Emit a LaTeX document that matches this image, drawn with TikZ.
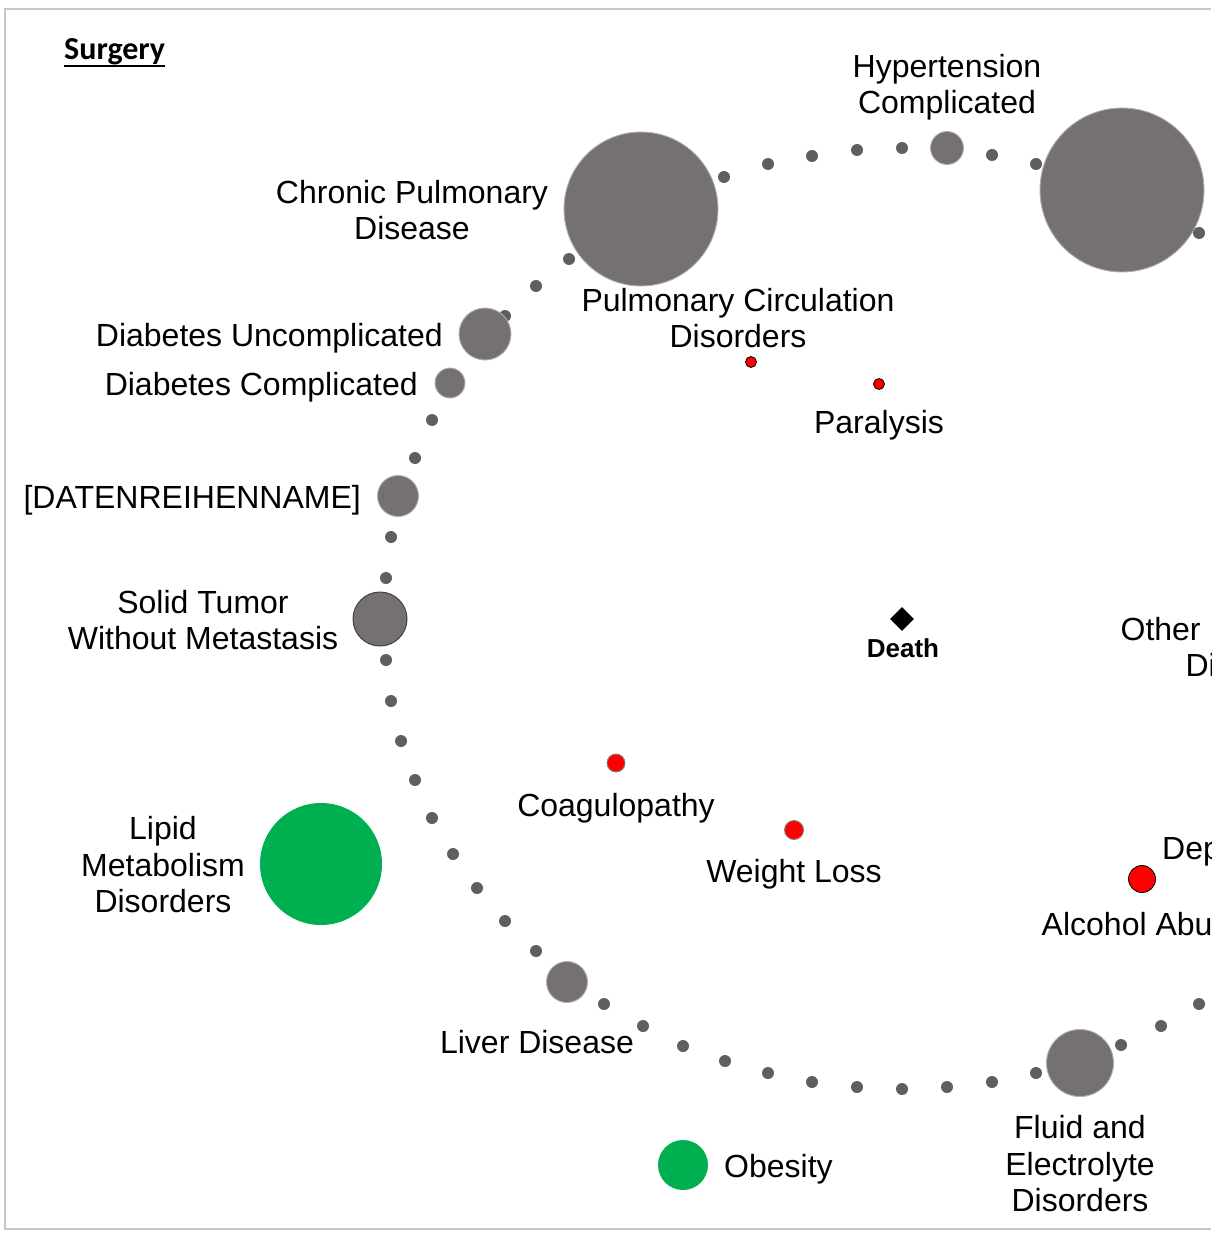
\documentclass[tikz,border=0pt]{standalone}
\usepackage{fontspec}
\setmainfont{Liberation Sans}
\newfontfamily\calibrifont{Carlito}
\usetikzlibrary{shapes.geometric}
\definecolor{bubgray}{HTML}{757171}
\definecolor{dotgray}{HTML}{5F5F5F}
\definecolor{edgegray}{HTML}{B0B0B0}
\definecolor{framecol}{HTML}{C0C8D2}
\definecolor{obgreen}{HTML}{00B050}
\tikzset{
  bub/.style={circle, inner sep=0pt, fill=bubgray, draw=edgegray, line width=0.9pt},
  ringdot/.style={circle, inner sep=0pt, minimum size=12pt, fill=dotgray},
  redblk/.style={circle, inner sep=0pt, fill=red, draw=black, line width=0.8pt},
  redgry/.style={circle, inner sep=0pt, fill=red, draw=gray, line width=0.9pt},
  grn/.style={circle, inner sep=0pt, fill=obgreen},
  lbl/.style={inner sep=0pt, font=\fontsize{32}{36.5}\selectfont, align=center},
}
\begin{document}
\begin{tikzpicture}[x=1pt,y=-1pt]
\useasboundingbox (0,0) rectangle (1217,1241);
\draw[framecol, line width=2pt] (1211,9.5) -- (5,9.5) -- (5,1228.5) -- (1211,1228.5);
\clip (0,0) rectangle (1211.5,1241);

% big bubbles
\node[bub, minimum size=154pt] (cpd) at (641,209) {};
\node[bub, minimum size=164pt] (htu) at (1122,190) {};

% ring dots
\foreach \px/\py [count=\i] in {724/177, 768/164, 812/156, 857/150, 902/148, 992/155, 1036/164, 1199/233,
  569/259, 536/286, 505/316, 432/420, 415/458, 391/537, 386/578, 386/660, 391/701, 401/741, 415/780,
  432/818, 453/854, 477/888, 505/921, 536/951, 604/1004, 643/1026, 683/1046, 725/1061, 768/1073,
  812/1082, 857/1087, 902/1089, 947/1087, 992/1082, 1036/1073, 1121/1045, 1161/1026, 1199/1004}
  \node[ringdot] (d\i) at (\px,\py) {};

% other gray bubbles
\node[bub, minimum size=33pt] (hc) at (947,148) {};
\node[bub, minimum size=52pt] (du) at (485,334) {};
\node[bub, minimum size=30pt] (dc) at (450,383) {};
\node[bub, minimum size=41pt] (dr) at (398,496) {};
\node[bub, minimum size=54pt, draw=black!75, line width=1pt] (st) at (380,619) {};
\node[bub, minimum size=41pt] (ld) at (567,982) {};
\node[bub, minimum size=67pt] (fe) at (1080,1063) {};

% green bubbles
\node[grn, minimum size=122pt] (lmd) at (321,864) {};
\node[grn, minimum size=50pt] (ob) at (683,1165) {};

% red dots
\node[redblk, minimum size=11pt] (pc) at (751,362) {};
\node[redblk, minimum size=11pt] (pa) at (879,384) {};
\node[redgry, minimum size=18pt] (co) at (616,763) {};
\node[redgry, minimum size=19pt] (wl) at (794,830) {};
\node[redblk, minimum size=27pt] (al) at (1142,879) {};

% death diamond
\node[diamond, fill=black, inner sep=0pt, minimum size=24pt] (de) at (902,619) {};

% labels
\node[anchor=base west, inner sep=0pt, font=\calibrifont\bfseries\fontsize{32}{36}\selectfont] (tsur) at (64,60) {Surgery};
\draw[line width=2.6pt] ([yshift=-6pt]tsur.base west) -- ([yshift=-6pt]tsur.base east);
\node[lbl] (thc) at (947,87) {Hypertension\\Complicated};
\node[lbl] (tcpd) at (412,210) {Chronic Pulmonary\\Disease};
\node[lbl] (tpc) at (738,318) {Pulmonary Circulation\\Disorders};
\node[lbl, anchor=base] (tpa) at (879,433) {Paralysis};
\node[lbl, anchor=base east] (tdu) at (443,346) {Diabetes Uncomplicated};
\node[lbl, anchor=base east] (tdc) at (418,395) {Diabetes Complicated};
\node[lbl, anchor=base east] (tdr) at (361,508) {[DATENREIHENNAME]};
\node[lbl] (tst) at (203,620) {Solid Tumor\\Without Metastasis};
\node[anchor=base, inner sep=0pt, font=\bfseries\fontsize{26}{30}\selectfont] (tde) at (903,657) {Death};
\node[lbl] (tond) at (1254,647) {Other Neurological\\Disorders};
\node[lbl, anchor=base] (tco) at (616,816) {Coagulopathy};
\node[lbl, anchor=base] (twl) at (794,882) {Weight Loss};
\node[lbl, anchor=base west] (tdep) at (1162,859) {Depression};
\node[lbl, anchor=base] (tal) at (1144,935) {Alcohol Abuse};
\node[lbl] (tlmd) at (163,865) {Lipid\\Metabolism\\Disorders};
\node[lbl, anchor=base] (tld) at (537,1053) {Liver Disease};
\node[lbl, anchor=base west] (tob) at (724,1177) {Obesity};
\node[lbl] (tfe) at (1080,1164) {Fluid and\\Electrolyte\\Disorders};
\end{tikzpicture}
\end{document}
